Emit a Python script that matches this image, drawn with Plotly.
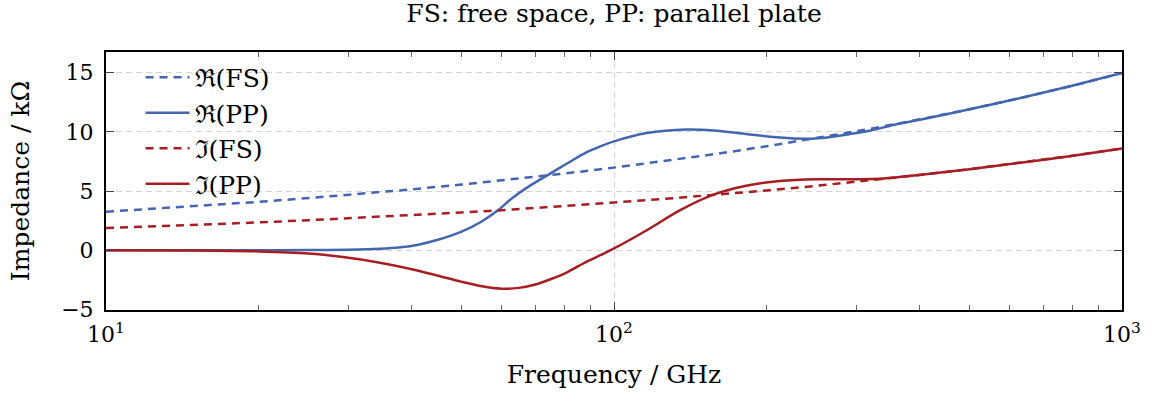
import plotly.graph_objects as go

# ---- data ----
freq_fs = [10, 12.59, 15.85, 19.95, 25.12, 31.62, 39.81, 50.12, 63.1, 79.43,
           100, 125.9, 158.5, 199.5, 251.2, 316.2, 398.1, 501.2, 631.0, 794.3, 1000]
re_fs = [3.25, 3.51, 3.79, 4.09, 4.41, 4.76, 5.14, 5.55, 5.99, 6.47,
         6.98, 7.53, 8.13, 8.78, 9.47, 10.22, 11.04, 11.91, 12.86, 13.88, 14.98]
im_fs = [1.87, 2.02, 2.18, 2.35, 2.54, 2.74, 2.95, 3.19, 3.44, 3.71,
         4.03, 4.34, 4.68, 5.05, 5.45, 5.88, 6.35, 6.85, 7.39, 7.97, 8.60]

freq_pp_re = [10, 15, 20, 25, 30, 34.6, 38, 41, 45, 50, 55, 59, 63, 68, 75, 81, 88, 94,
              100, 116, 139, 157, 182, 212, 240, 265, 290, 320, 360, 400,
              501.2, 631.0, 794.3, 1000]
re_pp = [0.00, 0.00, 0.00, 0.01, 0.04, 0.12, 0.25, 0.45, 0.88, 1.55, 2.45, 3.35, 4.40,
         5.40, 6.50, 7.35, 8.25, 8.78, 9.20, 9.90, 10.20, 10.12, 9.82, 9.52, 9.42, 9.55,
         9.80, 10.12, 10.65, 11.03, 11.91, 12.86, 13.88, 14.98]

freq_pp_im = [10, 15, 20, 25, 29, 34.6, 40, 45, 50, 55, 60, 65, 70, 75, 81, 88, 94,
              100, 116, 135, 157, 182, 212, 250, 300, 340, 398.1, 501.2, 631.0, 794.3, 1000]
im_pp = [0.00, -0.02, -0.10, -0.28, -0.56, -1.05, -1.60, -2.15, -2.65, -3.05, -3.25,
         -3.18, -2.90, -2.45, -1.84, -1.00, -0.42, 0.15, 1.69, 3.39, 4.70, 5.45, 5.85,
         6.00, 6.00, 6.06, 6.35, 6.85, 7.39, 7.97, 8.60]

x_tickvals = [10, 100, 1000]
x_ticktext = ["10<sup>1</sup>", "10<sup>2</sup>", "10<sup>3</sup>"]
x_minor = [20, 30, 40, 50, 60, 70, 80, 90, 200, 300, 400, 500, 600, 700, 800, 900]
y_tickvals = [-5, 0, 5, 10, 15]
y_ticktext = ["\u22125", "0", "5", "10", "15"]

BLUE = "#4466B0"
RED = "#A61E22"
FONT = "DejaVu Serif"

fig = go.Figure()
dash = "8px,6px"
fig.add_trace(go.Scatter(x=freq_fs, y=re_fs, mode="lines", name="\u211C(FS)", legendgroup="a",
                         line=dict(color=BLUE, width=2.5, dash=dash)))
fig.add_trace(go.Scatter(x=freq_pp_re, y=re_pp, mode="lines", name="\u211C(PP)", legendgroup="b",
                         line=dict(color=BLUE, width=2.5, shape="spline", smoothing=0.8)))
fig.add_trace(go.Scatter(x=freq_fs, y=im_fs, mode="lines", name="\u2111(FS)", legendgroup="c",
                         line=dict(color=RED, width=2.5, dash=dash)))
fig.add_trace(go.Scatter(x=freq_pp_im, y=im_pp, mode="lines", name="\u2111(PP)", legendgroup="d",
                         line=dict(color=RED, width=2.5, shape="spline", smoothing=0.8)))

fig.update_layout(
    width=1156, height=406,
    margin=dict(l=106, r=34, t=52, b=96),
    paper_bgcolor="white", plot_bgcolor="white",
    font=dict(family=FONT, size=22, color="black"),
    title=dict(text="FS: free space, PP: parallel plate", x=0.5, xref="paper",
               y=0.968, yref="container", xanchor="center", yanchor="middle",
               font=dict(family=FONT, size=25, color="black")),
    legend=dict(x=0.034, y=0.99, xanchor="left", yanchor="top",
                bgcolor="rgba(0,0,0,0)", font=dict(family=FONT, size=25),
                tracegroupgap=0, itemwidth=44),
    showlegend=True,
)
fig.update_xaxes(
    type="log", range=[1, 3],
    tickmode="array", tickvals=x_tickvals, ticktext=x_ticktext,
    ticks="inside", ticklen=8, tickwidth=1, tickcolor="#444",
    showline=True, linecolor="black", linewidth=2, mirror="ticks",
    showgrid=True, gridcolor="#d4d4d4", griddash="6px,4px", gridwidth=1,
    minor=dict(tickvals=x_minor, ticks="inside", ticklen=5, tickwidth=1,
               tickcolor="#666", showgrid=False),
    zeroline=False,
    ticklabelstandoff=4,
    tickfont=dict(family=FONT, size=22),
    title=dict(text="Frequency / GHz", font=dict(family=FONT, size=25), standoff=19),
)
fig.update_yaxes(
    range=[-5.05, 16.75],
    tickmode="array", tickvals=y_tickvals, ticktext=y_ticktext,
    ticks="inside", ticklen=8, tickwidth=1, tickcolor="#444",
    showline=True, linecolor="black", linewidth=2, mirror="ticks",
    showgrid=True, gridcolor="#d4d4d4", griddash="6px,4px", gridwidth=1,
    zeroline=False,
    ticklabelstandoff=6,
    tickfont=dict(family=FONT, size=22),
    title=dict(text="Impedance / k\u03A9", font=dict(family=FONT, size=25), standoff=24),
)

fig.write_html("out.html")
